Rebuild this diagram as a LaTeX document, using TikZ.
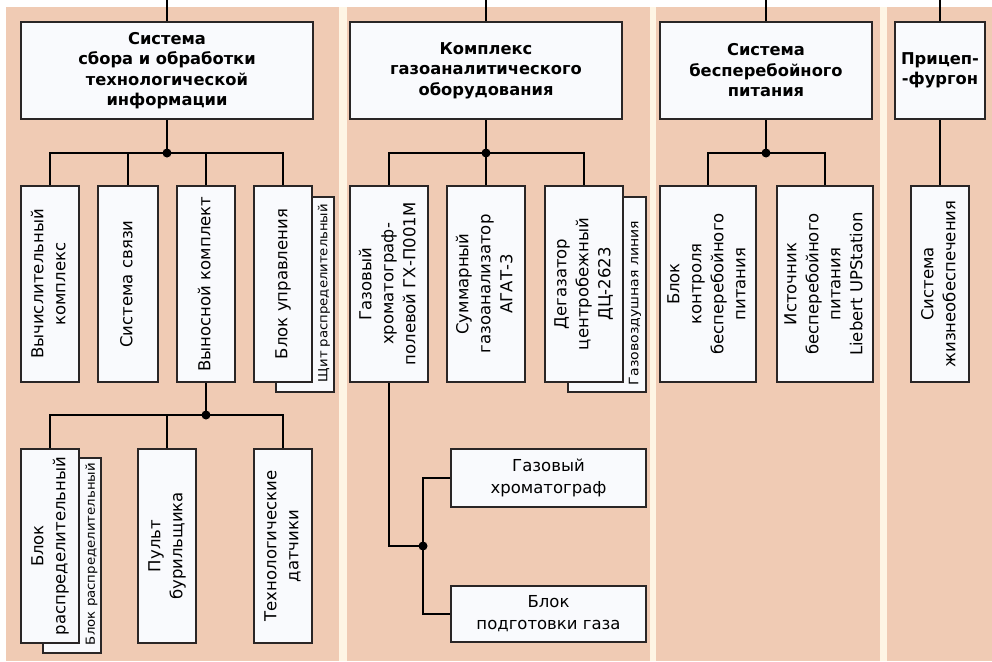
\documentclass[tikz,border=0pt]{standalone}
\usepackage{fontspec}
\setmainfont{DejaVu Sans}
\usepackage{graphicx}
\definecolor{salmon}{HTML}{F0CBB4}
\definecolor{cream}{HTML}{FEF5E4}
\definecolor{boxfill}{HTML}{F9FAFD}
\definecolor{bord}{HTML}{2A2626}
\newcommand\vt[1]{\rotatebox{90}{\begin{tabular}{@{}c@{}}#1\end{tabular}}}
\newcommand\bx[6]{\node[bx, minimum width={(#4-#2)*1pt}, minimum height={(#5-#3)*1pt}] (#1) at ({(#2+#4)/2},{(#3+#5)/2}) {#6};}
\newcommand\smtxt[2]{\resizebox{#1pt}{9.5pt}{#2}}
\tikzset{
  bx/.style={draw=bord, fill=boxfill, line width=2pt, inner sep=0pt,
    font=\fontsize{16.5}{22}\selectfont},
  ttl/.style={align=center, font=\bfseries\fontsize{16.3}{20.5}\selectfont},
  conn/.style={draw=black, line width=2pt},
  jdot/.style={circle, fill=black, inner sep=0pt, minimum size=9pt},
  smallt/.style={rotate=90, inner sep=0pt}
}
\begin{document}
\begin{tikzpicture}[x=1pt,y=-1pt]
\useasboundingbox (0,0) rectangle (992,661);
% background
\fill[white] (0,0) rectangle (992,661);
\fill[salmon] (6,7) rectangle (339,661);
\fill[cream] (339,7) rectangle (347,661);
\fill[salmon] (347,7) rectangle (650,661);
\fill[cream] (650,7) rectangle (656,661);
\fill[salmon] (656,7) rectangle (880,661);
\fill[cream] (880,7) rectangle (887,661);
\fill[salmon] (887,7) rectangle (992,661);

% top coordinates
\coordinate (t1) at (167,0);
\coordinate (t2) at (486,0);
\coordinate (t3) at (766,0);
\coordinate (t4) at (940,0);

% top boxes
\bx{S1}{21}{22}{313}{119}{}
\node[ttl] (S1t) at (S1) {Система\\сбора и обработки\\технологической\\информации};
\bx{S2}{350}{22}{622}{119}{}
\node[ttl] (S2t) at (S2) {Комплекс\\газоаналитического\\оборудования};
\bx{S3}{660}{22}{872}{119}{}
\node[ttl] (S3t) at (S3) {Система\\бесперебойного\\питания};
\bx{S4}{895}{22}{985}{119}{}
\node[ttl] (S4t) at (S4) {Прицеп-\\-фургон};

% column 1 children
\bx{A}{21}{186}{79}{382}{\vt{Вычислительный\\комплекс}}
\bx{B}{98}{186}{158}{382}{\vt{Система связи}}
\bx{C}{177}{186}{235}{382}{\vt{Выносной комплект}}
\bx{Dsh}{276}{197}{334}{392}{}
\node[smallt] (Dsht) at (324,293) {\smtxt{178}{Щит распределительный}};
\bx{D}{254}{186}{312}{382}{\vt{Блок управления}}

% column 1 bottom row
\bx{Ksh}{43}{458}{101}{653}{}
\node[smallt] (Ksht) at (91.5,554) {\smtxt{182}{Блок распределительный}};
\bx{K}{21}{449}{79}{643}{\vt{Блок\\распределительный}}
\bx{L}{138}{449}{196}{643}{\vt{Пульт\\бурильщика}}
\bx{M}{254}{449}{312}{643}{\vt{Технологические\\датчики}}

% column 2 children
\bx{E}{350}{186}{428}{382}{\vt{Газовый\\хроматограф-\\полевой ГХ-П001М}}
\bx{F}{447}{186}{525}{382}{\vt{Суммарный\\газоанализатор\\АГАТ-3}}
\bx{Gsh}{568}{197}{646}{392}{}
\node[smallt] (Gsht) at (635,303) {\smtxt{164}{Газовоздушная линия}};
\bx{G}{545}{186}{623}{382}{\vt{Дегазатор\\центробежный\\ДЦ-2623}}
\bx{N}{451}{449}{646}{507}{}
\node[align=center, font=\fontsize{16.5}{22}\selectfont] (Nt) at (N) {Газовый\\хроматограф};
\bx{O}{451}{586}{646}{642}{}
\node[align=center, font=\fontsize{16.5}{22}\selectfont] (Ot) at (O) {Блок\\подготовки газа};

% column 3 children
\bx{H}{660}{186}{756}{382}{\vt{Блок\\контроля\\бесперебойного\\питания}}
\bx{I}{777}{186}{873}{382}{\vt{Источник\\бесперебойного\\питания\\Liebert UPStation}}

% column 4 child
\bx{J}{911}{186}{969}{382}{\vt{Система\\жизнеобеспечения}}

% junctions
\coordinate (j1) at (167,153);
\coordinate (j2) at (206,415);
\coordinate (j3) at (486,153);
\coordinate (j4) at (423,546);
\coordinate (j5) at (766,153);

% connectors column 1
\draw[conn] (t1) -- (S1.north);
\draw[conn] (S1.south) -- (j1);
\draw[conn] (A.north) -- (A.north|-j1) -- (D.north|-j1) -- (D.north);
\draw[conn] (B.north) -- (B.north|-j1);
\draw[conn] (C.north) -- (C.north|-j1);
\node[jdot] (d1) at (j1) {};
\draw[conn] (C.south) -- (j2);
\draw[conn] (K.north) -- (K.north|-j2) -- (M.north|-j2) -- (M.north);
\draw[conn] (L.north) -- (L.north|-j2);
\node[jdot] (d2) at (j2) {};

% connectors column 2
\draw[conn] (t2) -- (S2.north);
\draw[conn] (S2.south) -- (j3);
\draw[conn] (E.north) -- (E.north|-j3) -- (G.north|-j3) -- (G.north);
\draw[conn] (F.north) -- (F.north|-j3);
\node[jdot] (d3) at (j3) {};
\draw[conn] (E.south) |- (j4);
\draw[conn] (N.west) -| (j4) |- (O.west);
\node[jdot] (d4) at (j4) {};

% connectors column 3
\draw[conn] (t3) -- (S3.north);
\draw[conn] (S3.south) -- (j5);
\draw[conn] (H.north) -- (H.north|-j5) -- (I.north|-j5) -- (I.north);
\node[jdot] (d5) at (j5) {};

% column 4
\draw[conn] (t4) -- (S4.north);
\draw[conn] (S4.south) -- (J.north);
\end{tikzpicture}
\end{document}
